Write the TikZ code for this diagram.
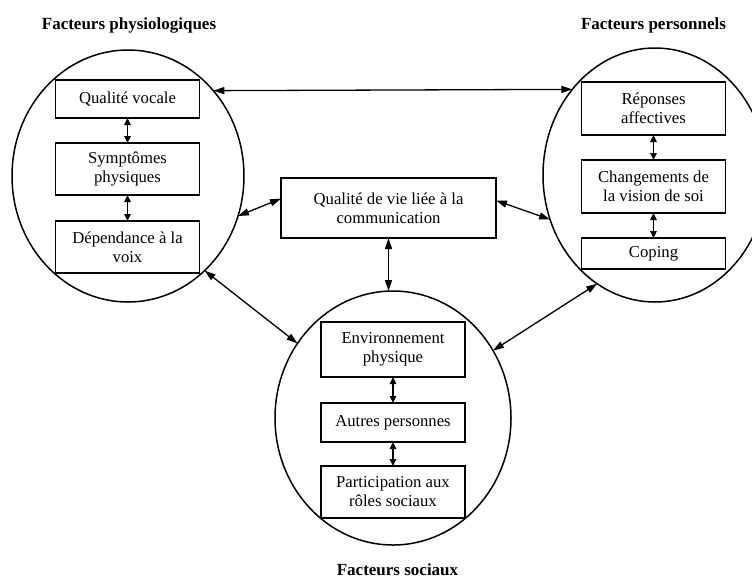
\documentclass[tikz,border=0pt]{standalone}
\usepackage{fontspec}
\setmainfont{Liberation Serif}
\usetikzlibrary{shapes.geometric,arrows.meta}
\begin{document}
\begin{tikzpicture}[x=1pt,y=-1pt,
  lw/.style={line width=1.5pt},
  group/.style={draw,ellipse,lw,inner sep=0pt,outer sep=0pt},
  item/.style={draw,lw,inner sep=0pt,outer sep=0pt,minimum width=144pt,align=center,font=\fontsize{16.7}{19}\selectfont},
  title/.style={font=\fontsize{17}{20}\selectfont\bfseries,anchor=base,inner sep=0pt},
  link/.style={line width=1.3pt,{Triangle[length=11pt,width=7pt]}-{Triangle[length=11pt,width=7pt]}},
  small/.style={line width=1.1pt,{Triangle[length=7pt,width=6.5pt]}-{Triangle[length=7pt,width=6.5pt]}}]
\useasboundingbox (0,0) rectangle (752,579);

% titles
\node[title] (tL) at (129,29) {Facteurs physiologiques};
\node[title] (tR) at (653.5,29) {Facteurs personnels};
\node[title] (tB) at (397.5,575) {Facteurs sociaux};

% groups
\node[group,minimum width=232pt,minimum height=252pt] (L) at (128,176) {};
\node[group,minimum width=224pt,minimum height=254pt] (R) at (655,175) {};
\node[group,minimum width=236pt,minimum height=254pt] (B) at (393,418) {};

% left items
\node[item,minimum height=38pt] (l1) at (127.5,99) {Qualité vocale};
\node[item,minimum height=52pt] (l2) at (127.5,169) {Symptômes\\physiques};
\node[item,minimum height=52pt] (l3) at (127.5,247) {Dépendance à la\\voix};

% right items
\node[item,minimum height=53pt] (r1) at (653.5,108.5) {Réponses\\affectives};
\node[item,minimum height=53pt] (r2) at (653.5,186.5) {Changements de\\la vision de soi};
\node[item,minimum height=31pt] (r3) at (653.5,253.5) {Coping};

% bottom items
\node[item,minimum height=55pt] (b1) at (393,349.5) {Environnement\\physique};
\node[item,minimum height=39pt] (b2) at (393,422.5) {Autres personnes};
\node[item,minimum height=52pt] (b3) at (393,492) {Participation aux\\rôles sociaux};

% centre
\node[item,minimum width=215pt,minimum height=60pt] (C) at (388.5,208) {Qualité de vie liée à la\\communication};

% small arrows
\draw[small] (l1.south) -- (l2.north);
\draw[small] (l2.south) -- (l3.north);
\draw[small] (r1.south) -- (r2.north);
\draw[small] (r2.south) -- (r3.north);
\draw[small] (b1.south) -- (b2.north);
\draw[small] (b2.south) -- (b3.north);

% main links
\draw[link] (L.45.4) -- (R.134.4);
\draw[link] (L.-20.6) -- (C.175.7);
\draw[link] (C.4.3) -- (R.203.3);
\draw[link] (C.south) -- (C.south |- B.north);
\draw[link] (L.-51.4) -- (B.142.6);
\draw[link] (R.242) -- (B.34.7);
\end{tikzpicture}
\end{document}
